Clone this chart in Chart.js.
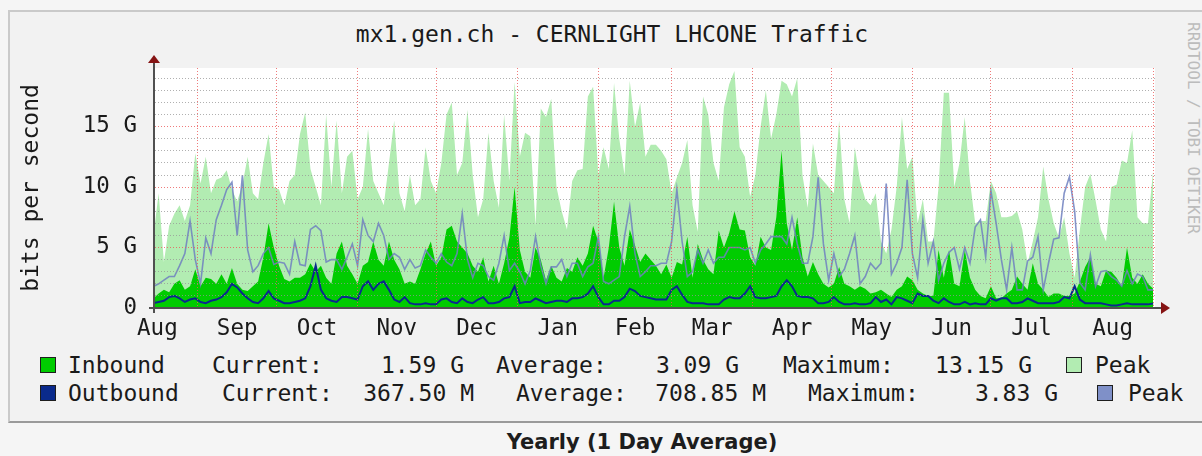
<!DOCTYPE html>
<html>
<head>
<meta charset="utf-8">
<title>mx1.gen.ch - CERNLIGHT LHCONE Traffic</title>
<script src="https://cdn.jsdelivr.net/npm/chart.js@4.4.0/dist/chart.umd.min.js"></script>
<style>
  body { margin: 0; width: 1202px; height: 456px; overflow: hidden; background: #f5f5f5; position: relative;
         font-family: "DejaVu Sans Mono", monospace; color: #1a1a1a; }
  #frame { position: absolute; left: 8px; top: 10px; width: 1220px; height: 409px; background: #f2f2f2;
           border: 2px solid #cacaca; border-bottom-color: #9a9a9a; }
  #chartBox { position: absolute; left: 0; top: 0; width: 1202px; height: 345px; }
  #title { position: absolute; left: 0; width: 1224px; top: 20px; text-align: center; font-size: 23px; line-height: 28px; }
  #credit { position: absolute; left: 1184px; top: 22px; writing-mode: vertical-rl; font-size: 16px; line-height: 18px; color: #bcbcbc; }
  .lg { position: absolute; font-size: 23px; line-height: 26px; white-space: pre; }
  .box { position: absolute; width: 14px; height: 14px; border: 1px solid #1e1e1e; }
  #caption { position: absolute; left: 0; width: 1284px; top: 430px; text-align: center;
             font-family: "DejaVu Sans", Verdana, sans-serif; font-weight: bold; font-size: 21px; color: #1d1d1d; }
</style>
</head>
<body>
<div id="frame"></div>
<div id="title">mx1.gen.ch - CERNLIGHT LHCONE Traffic</div>
<div id="credit">RRDTOOL / TOBI OETIKER</div>
<div id="chartBox"><canvas id="traffic" width="1202" height="345"></canvas></div>
<div id="legend"></div>
<div id="caption">Yearly (1 Day Average)</div>

<script>
// one sample every 2 days, day 0 = mid August
const STEP_DAYS = 2;

// month names on the x axis and the day offset where each month starts
const monthLabels = ["Aug", "Sep", "Oct", "Nov", "Dec", "Jan", "Feb", "Mar", "Apr", "May", "Jun", "Jul", "Aug"];
const monthStarts = [-14, 17, 47, 78, 108, 139, 170, 198, 229, 259, 290, 320, 351, 382];

// y axis ticks (G bits per second)
const yTickValues = [0, 5, 10, 15];
const yTickLabels = ["0", "5 G", "10 G", "15 G"];

// inbound peak (light green area), Gbit/s
const inboundPeak = [
  6, 9.5, 3.8, 6.8, 7.8, 8.5, 7.2, 8.5, 12.8, 10.3, 12.5, 9.5, 10.6, 10.8, 11.4, 9.8,
  8.8, 10.2, 12.5, 9.5, 9, 12, 14.4, 10, 9.8, 8.5, 10.5, 11, 14.4, 16.2, 11.5, 10,
  8.5, 16, 10, 15.5, 9.5, 12.5, 13, 9, 10, 14.8, 10.5, 9.5, 8.5, 12, 15.5, 9.5,
  8, 11, 8.5, 9, 13.3, 10.5, 9.5, 12, 16, 17, 11, 12, 16.4, 11, 7.5, 9,
  14.5, 10.5, 8.3, 16, 10.5, 18.7, 12.5, 14.5, 14.2, 6.8, 16.5, 15.8, 17.3, 10, 8, 6.5,
  10.5, 11.4, 11.5, 17.5, 18.3, 11, 13.3, 11.5, 18.6, 14, 11, 18.8, 15, 17, 12.5, 13.5,
  13.5, 13, 12.3, 9.5, 10.8, 12, 13.9, 8.5, 6.3, 17.5, 16, 12, 10.5, 16.6, 18.5, 19.6,
  13.3, 12.5, 9.2, 11, 15, 18, 14, 16, 18.8, 18.5, 17.5, 19, 11, 8.3, 13.6, 11,
  10.5, 10, 9.5, 15.5, 9, 7, 13.3, 10.5, 9, 8.5, 9.5, 5.5, 4.5, 6.5, 10, 15.8,
  11.5, 12.5, 7, 9, 5.5, 5.5, 10, 17.8, 17.8, 10, 12, 15.8, 10.5, 7, 7.2, 7.2,
  10.5, 9.5, 7.5, 7.5, 7.6, 8, 6.5, 3.7, 5.5, 7.5, 11.7, 9, 7, 5.8, 7.5, 4.5,
  2.5, 6.5, 10, 11.1, 8.9, 6.5, 5.5, 10, 10.2, 12.2, 12, 14.7, 7.5, 7, 7, 11.4
];

// inbound daily average (green area)
const inboundAvg = [
  0.8, 1.2, 1.5, 1.3, 2, 2.3, 1.5, 1.8, 3.2, 1.8, 2.5, 2.4, 2, 2.8, 2, 3.3,
  2, 1.5, 1.4, 1.8, 2.2, 4.2, 7, 5, 3.5, 2.4, 2.2, 2.5, 2.5, 2.8, 3.7, 3,
  3.5, 2.5, 2, 4.5, 5.5, 3.5, 2.8, 2, 3.5, 3.8, 5.5, 4, 3.5, 5.5, 4, 3.2,
  2, 2.2, 2, 3.2, 4.5, 5.5, 3.5, 4.2, 6.5, 6.8, 5.5, 5, 4.5, 3.5, 3, 4.2,
  2.2, 3.5, 2, 3.7, 5.8, 10, 4.8, 3, 2.5, 5, 4, 2.3, 3.5, 2.5, 2.2, 3.3,
  3, 4.2, 3.5, 4.5, 6.8, 5.5, 2.5, 5, 8.8, 5, 3.5, 6.5, 5.2, 3.8, 4.5, 4,
  3.5, 2.8, 3.6, 2.5, 3.8, 3.6, 5.9, 2.5, 5.3, 4, 3.2, 2.8, 6.4, 5, 6.2, 8,
  6.5, 6.4, 4.2, 3.5, 5.9, 5, 4.8, 7.5, 13, 7, 4.8, 7.5, 4.2, 2.6, 3.8, 2.8,
  2, 1.7, 2, 3.4, 2, 1.8, 1.5, 1.8, 1.6, 1.2, 1.3, 1.5, 1.2, 0.9, 1.5, 1.8,
  2.6, 2.3, 1.5, 1.2, 1, 1, 4.8, 2.5, 4.8, 2, 1.8, 4.8, 2.5, 1.5, 1, 0.8,
  1.8, 0.8, 0.8, 1.2, 1.5, 2.6, 2, 1.5, 3.7, 2, 1.5, 0.9, 1.2, 1.2, 1, 1,
  1.2, 2.2, 3.4, 4.2, 2, 1.8, 3.1, 3, 2.5, 1.8, 5, 2.5, 2, 2.8, 2, 1.59
];

// outbound peak (grey-blue line)
const outboundPeak = [
  1.8, 2, 2.3, 2.6, 2.6, 3.5, 4.5, 7.2, 4, 2, 5.8, 4.5, 7.3, 8.5, 9.8, 10.4,
  6, 11, 4.8, 3, 3.5, 4.5, 5, 3.6, 3.8, 3.7, 2.8, 5.5, 3.6, 3.5, 6.5, 6.8,
  6.4, 3.8, 4, 4, 3.2, 4.2, 5.3, 3.5, 7.3, 6, 5.5, 7, 6, 4, 4.5, 4.2,
  3.2, 4, 3.3, 3.5, 4.8, 4.2, 3.7, 4.5, 3.8, 3.5, 4.5, 7.8, 4, 2.5, 3.7, 3.5,
  2.6, 2.3, 3.7, 6, 3.1, 3.7, 3, 2, 3.1, 5.9, 3.5, 2, 3.4, 3.4, 4, 2.6,
  3.7, 3.7, 2.6, 3.4, 3.7, 5.9, 2.2, 2, 2.3, 2.6, 5.9, 8.4, 4.5, 2.6, 3, 3.5,
  3.5, 3.7, 3.7, 5.5, 9.8, 5.5, 2.6, 3, 4.8, 3.7, 4.8, 3.7, 4.2, 4.2, 5, 5,
  5, 4.8, 5, 3.7, 4.8, 5.3, 5.9, 5.9, 5.9, 5.3, 7.5, 5.3, 3.7, 3.7, 5.9, 10.8,
  5.3, 2.3, 4.5, 2.6, 3.2, 4.5, 6, 2, 2.6, 3.7, 3.2, 3.7, 10.3, 2.8, 3.7, 5,
  10.6, 4.5, 2.5, 7.3, 3.7, 5.5, 2.3, 3.7, 4.6, 5, 3.2, 5, 3.7, 6.7, 7.3, 4.2,
  9.7, 7, 4, 1.5, 5, 1.5, 1.5, 3.9, 4.2, 5.9, 1.5, 3.7, 5.7, 5.8, 9.5, 10.85,
  8, 2.1, 1.5, 4.4, 1.8, 3, 3.1, 2.6, 2.3, 1.8, 3.1, 2, 2.8, 2.6, 1.5, 1.5
];

// outbound daily average (dark blue line)
const outboundAvg = [
  0.4, 0.5, 0.6, 0.9, 1, 0.8, 0.5, 0.7, 0.8, 0.5, 0.4, 0.6, 0.7, 0.9, 1.3, 2,
  1.7, 1.2, 0.8, 0.5, 0.4, 0.8, 1.4, 0.8, 0.6, 0.4, 0.4, 0.5, 0.6, 0.8, 1.8, 3.5,
  1.5, 0.8, 0.6, 0.5, 0.9, 0.9, 0.8, 0.7, 1.8, 2.2, 1.5, 2, 2.2, 1.5, 0.7, 0.5,
  0.9, 0.4, 0.3, 0.3, 0.4, 0.3, 0.3, 0.7, 0.8, 0.5, 0.4, 0.8, 0.5, 0.4, 0.7, 0.9,
  0.4, 0.4, 0.5, 0.8, 0.9, 1.8, 0.4, 0.5, 0.5, 0.8, 0.6, 0.4, 0.5, 0.6, 0.6, 0.5,
  0.8, 0.8, 0.9, 1.2, 1.8, 0.9, 0.3, 0.3, 0.6, 0.6, 0.9, 1.6, 1.4, 1, 0.9, 0.8,
  0.7, 0.7, 0.7, 1.5, 1.8, 1.1, 0.5, 0.4, 0.4, 0.4, 0.3, 0.3, 0.3, 0.7, 0.9, 0.8,
  0.8, 1.2, 1.8, 0.9, 0.8, 0.8, 0.9, 1, 1.8, 2.3, 1.8, 1, 0.9, 0.9, 0.8, 0.4,
  0.4, 0.5, 0.9, 0.5, 0.3, 0.3, 0.4, 0.3, 0.3, 0.4, 0.9, 0.5, 0.7, 0.3, 0.9, 0.8,
  0.6, 0.4, 1.2, 1, 1, 0.6, 0.4, 0.8, 0.5, 0.3, 0.3, 0.5, 0.3, 0.4, 0.3, 0.3,
  0.8, 0.6, 0.8, 0.8, 0.4, 0.4, 0.5, 0.8, 0.6, 0.4, 0.4, 0.4, 0.4, 0.5, 0.9, 0.8,
  1.8, 0.7, 0.4, 0.4, 0.4, 0.4, 0.3, 0.2, 0.2, 0.3, 0.4, 0.3, 0.3, 0.3, 0.3, 0.37
];

// legend rows: [text, left x or null, right x or null]
const legendRows = [
  { top: 352, box: "#00cc00", boxX: 40, peakBox: "#b2ecb2", peakBoxX: 1066, peakX: 1095,
    items: [["Inbound", 68], ["Current:", 212], ["1.59 G", null, 464], ["Average:", 496],
            ["3.09 G", null, 739], ["Maximum:", 783], ["13.15 G", null, 1032]] },
  { top: 380, box: "#0a2a8c", boxX: 40, peakBox: "#7f90c8", peakBoxX: 1097, peakX: 1128,
    items: [["Outbound", 68], ["Current:", 222], ["367.50 M", null, 474], ["Average:", 516],
            ["708.85 M", null, 766], ["Maximum:", 808], ["3.83 G", null, 1058]] }
];

const legendEl = document.getElementById("legend");
legendRows.forEach(row => {
  const add = (text, style, cls) => {
    const el = document.createElement("div");
    el.className = cls;
    el.textContent = text;
    Object.assign(el.style, style);
    legendEl.appendChild(el);
  };
  add("", { left: row.boxX + "px", top: (row.top + 5) + "px", background: row.box }, "box");
  row.items.forEach(([text, left, right]) => {
    const st = { top: row.top + "px" };
    if (left !== null) st.left = left + "px"; else st.right = (1202 - right) + "px";
    add(text, st, "lg");
  });
  add("", { left: row.peakBoxX + "px", top: (row.top + 5) + "px", background: row.peakBox }, "box");
  add("Peak", { left: row.peakX + "px", top: row.top + "px" }, "lg");
});

const days = inboundAvg.map((_, i) => i * STEP_DAYS);
const toPoints = vals => vals.map((v, i) => ({ x: days[i], y: v }));

const monthMids = monthLabels.map((_, i) => (monthStarts[i] + monthStarts[i + 1]) / 2);

const RED_GRID = "rgba(235, 90, 90, 0.8)";
const GREY_GRID = "rgba(150, 150, 150, 0.75)";
const FONT = "'DejaVu Sans Mono', monospace";

const plotBackground = {
  id: "plotBackground",
  beforeDraw(chart) {
    const { ctx, chartArea: a } = chart;
    ctx.save();
    ctx.fillStyle = "#ffffff";
    ctx.fillRect(a.left, a.top, a.right - a.left, a.bottom - a.top);
    ctx.restore();
  }
};

const axisArrows = {
  id: "axisArrows",
  afterDraw(chart) {
    const { ctx, chartArea: a } = chart;
    ctx.save();
    ctx.strokeStyle = "#505050";
    ctx.lineWidth = 2;
    ctx.beginPath();
    ctx.moveTo(a.left - 6, a.bottom);
    ctx.lineTo(a.right + 6, a.bottom);
    ctx.moveTo(a.left - 1, a.bottom + 5);
    ctx.lineTo(a.left - 1, a.top - 5);
    ctx.stroke();
    ctx.fillStyle = "#861414";
    ctx.beginPath();
    ctx.moveTo(a.left - 1, a.top - 13);
    ctx.lineTo(a.left - 7, a.top - 5);
    ctx.lineTo(a.left + 5, a.top - 5);
    ctx.closePath();
    ctx.fill();
    ctx.beginPath();
    ctx.moveTo(a.right + 15, a.bottom);
    ctx.lineTo(a.right + 6, a.bottom - 6);
    ctx.lineTo(a.right + 6, a.bottom + 6);
    ctx.closePath();
    ctx.fill();
    ctx.restore();
  }
};

new Chart(document.getElementById("traffic").getContext("2d"), {
  type: "line",
  data: {
    datasets: [
      {
        label: "Outbound",
        data: toPoints(outboundAvg),
        borderColor: "#0a2a8c",
        borderWidth: 2,
        pointRadius: 0,
        fill: false,
        order: 1
      },
      {
        label: "Outbound Peak",
        data: toPoints(outboundPeak),
        borderColor: "rgba(110, 128, 192, 0.85)",
        borderWidth: 1.6,
        pointRadius: 0,
        fill: false,
        order: 2
      },
      {
        label: "Inbound",
        data: toPoints(inboundAvg),
        borderWidth: 0,
        backgroundColor: "#00cc00",
        pointRadius: 0,
        fill: "origin",
        order: 3
      },
      {
        label: "Inbound Peak",
        data: toPoints(inboundPeak),
        borderWidth: 0,
        backgroundColor: "#b2ecb2",
        pointRadius: 0,
        fill: "origin",
        order: 4
      }
    ]
  },
  options: {
    responsive: false,
    animation: false,
    layout: { padding: { left: 0, right: 47, top: 68, bottom: 0 } },
    plugins: {
      legend: { display: false },
      tooltip: { enabled: false },
      title: { display: false }
    },
    scales: {
      x: {
        type: "linear",
        min: 0.6,
        max: 382.7,
        afterBuildTicks(scale) {
          const starts = monthStarts.filter(d => d > scale.min && d < scale.max).map(d => ({ value: d }));
          const mids = monthMids.map(d => ({ value: d }));
          scale.ticks = starts.concat(mids).sort((p, q) => p.value - q.value);
        },
        afterFit(scale) { scale.height = 37; },
        border: { display: false, dash: [1, 2] },
        grid: {
          z: 1,
          drawTicks: false,
          color: RED_GRID,
          lineWidth: ctx => (ctx.tick && monthStarts.includes(ctx.tick.value) ? 1 : 0)
        },
        ticks: {
          autoSkip: false,
          maxRotation: 0,
          padding: 8,
          color: "#1a1a1a",
          font: { family: FONT, size: 22.5 },
          callback: value => {
            const i = monthMids.indexOf(value);
            return i >= 0 ? monthLabels[i] : "";
          }
        }
      },
      y: {
        type: "linear",
        min: 0,
        max: 19.85,
        afterBuildTicks(scale) {
          const list = [];
          for (let v = 0; v <= 19; v++) list.push({ value: v });
          scale.ticks = list;
        },
        afterFit(scale) { scale.width = 155; },
        border: { display: false, dash: [1, 2] },
        grid: {
          z: 1,
          drawTicks: false,
          color: ctx => (ctx.tick && yTickValues.includes(ctx.tick.value) ? RED_GRID : GREY_GRID),
          lineWidth: ctx => (ctx.tick && ctx.tick.value === 0 ? 0 : 1)
        },
        ticks: {
          autoSkip: false,
          padding: 18,
          color: "#1a1a1a",
          font: { family: FONT, size: 22.5 },
          callback: value => {
            const i = yTickValues.indexOf(value);
            return i >= 0 ? yTickLabels[i] : "";
          }
        },
        title: {
          display: true,
          text: "bits per second",
          color: "#1a1a1a",
          font: { family: FONT, size: 23 },
          padding: { top: 18, bottom: 0 }
        }
      }
    }
  },
  plugins: [plotBackground, axisArrows]
});
</script>
</body>
</html>
